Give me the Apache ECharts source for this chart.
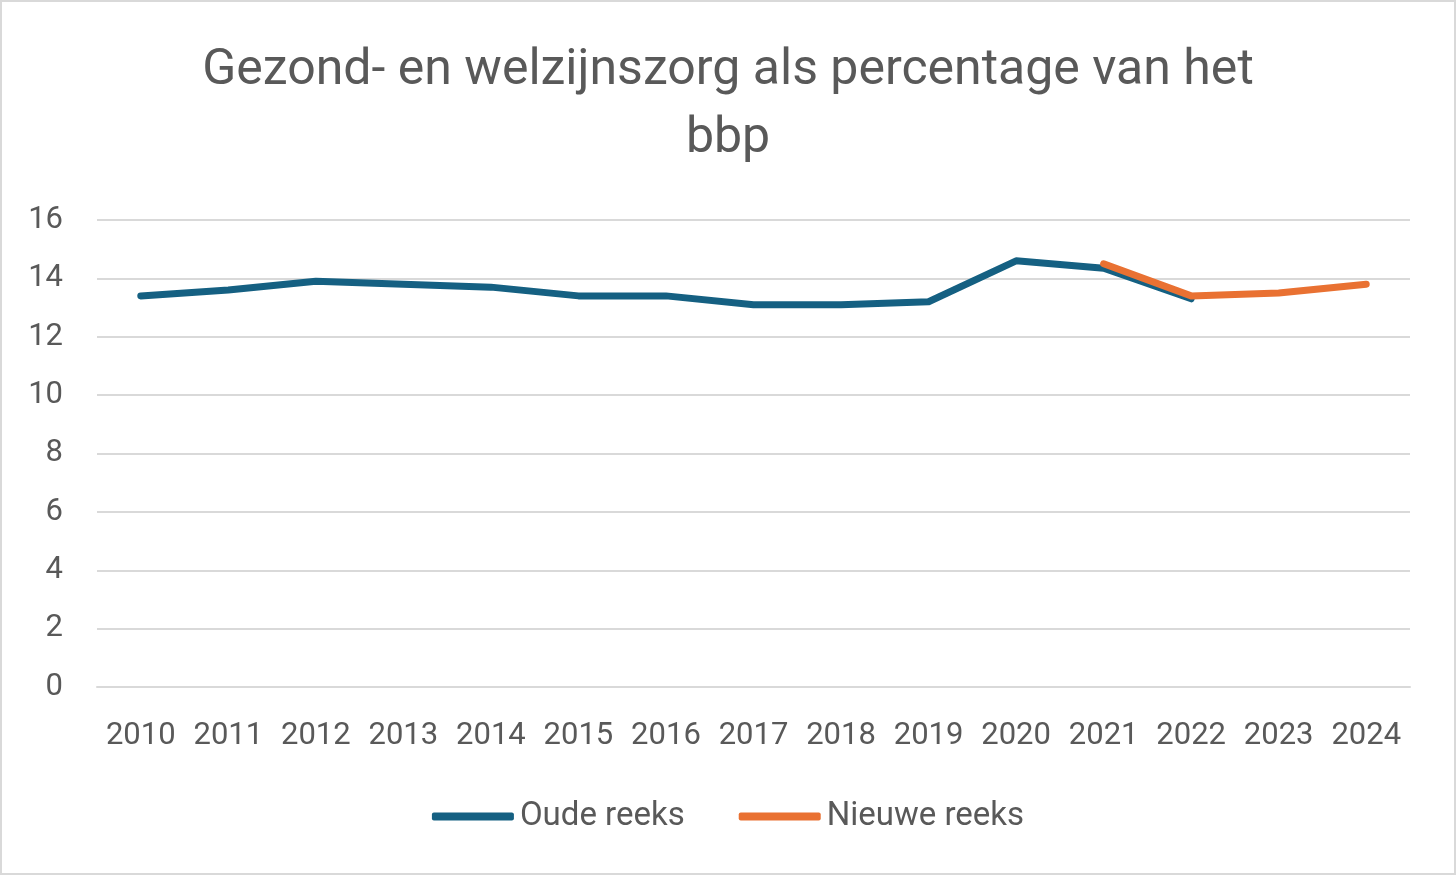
<!DOCTYPE html>
<html>
<head>
<meta charset="utf-8">
<script src="https://cdn.jsdelivr.net/npm/echarts@6/dist/echarts.min.js"></script>
<style>
html,body{margin:0;padding:0;background:#fff;}
#c{width:1456px;height:875px;box-sizing:border-box;border:2px solid #d9d9d9;}
</style>
</head>
<body>
<div id="c"></div>
<script>
const years = ['2010','2011','2012','2013','2014','2015','2016','2017','2018','2019','2020','2021','2022','2023','2024'];
const oudeReeks = [13.4,13.6,13.9,13.8,13.7,13.4,13.4,13.1,13.1,13.2,14.6,14.35,13.3,null,null];
const nieuweReeks = [null,null,null,null,null,null,null,null,null,null,null,14.5,13.4,13.5,13.8];
const yTicks = {min:0,max:16,interval:2};

const chart = echarts.init(document.getElementById('c'));
const font = 'Roboto, "Open Sans", sans-serif';
chart.setOption({
  animation:false,
  title:{
    text:'Gezond- en welzijnszorg als percentage van het\nbbp',
    left:'center', top:30,
    textStyle:{fontFamily:font,fontSize:50,fontWeight:'normal',color:'#595959',lineHeight:68}
  },
  legend:{
    bottom:35, left:'center', itemGap:54, itemWidth:82, itemHeight:8,
    icon:'roundRect',
    textStyle:{fontFamily:font,fontSize:33,color:'#595959',padding:[0,0,0,1]},
    data:['Oude reeks','Nieuwe reeks']
  },
  grid:{left:95,right:44,top:218,bottom:186},
  xAxis:{
    type:'category', data:years, boundaryGap:true,
    axisLine:{lineStyle:{color:'#d9d9d9',width:2}},
    axisTick:{show:false},
    axisLabel:{fontFamily:font,fontSize:31,color:'#595959',margin:34,interval:0,hideOverlap:false}
  },
  yAxis:{
    type:'value', min:yTicks.min, max:yTicks.max, interval:yTicks.interval,
    axisLine:{show:false}, axisTick:{show:false},
    splitLine:{lineStyle:{color:'#d9d9d9',width:2}},
    axisLabel:{fontFamily:font,fontSize:31,color:'#595959',margin:34}
  },
  series:[
    {name:'Oude reeks',type:'line',data:oudeReeks,symbol:'none',
     lineStyle:{color:'#156082',width:7,cap:'round',join:'round'},itemStyle:{color:'#156082'}},
    {name:'Nieuwe reeks',type:'line',data:nieuweReeks,symbol:'none',
     lineStyle:{color:'#E97132',width:7,cap:'round',join:'round'},itemStyle:{color:'#E97132'}}
  ]
});
</script>
</body>
</html>
